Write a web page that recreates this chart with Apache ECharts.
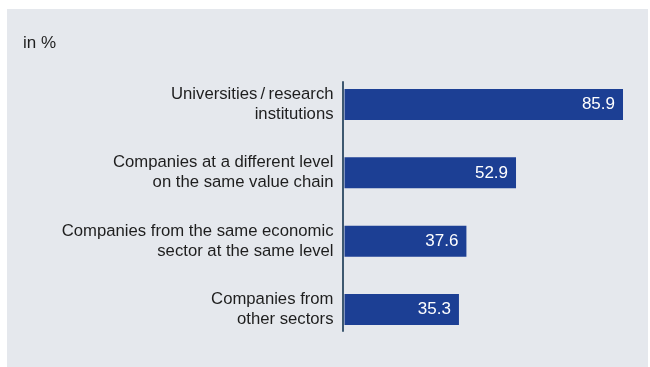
<!DOCTYPE html>
<html>
<head>
<meta charset="utf-8">
<script src="https://cdn.jsdelivr.net/npm/echarts@6/dist/echarts.min.js"></script>
<style>
  html, body { margin: 0; padding: 0; background: #ffffff; }
  #panel { position: absolute; left: 7px; top: 9px; width: 641px; height: 358px; background: #e5e8ed; }
  #chart { position: absolute; left: 0; top: 0; width: 650px; height: 367px; }
</style>
</head>
<body>
<div id="panel"></div>
<div id="chart"></div>
<script>
// Cooperation partners, share of respondents in %
const categories = [
  'Universities\u2009/\u2009research\ninstitutions',
  'Companies at a different level\non the same value chain',
  'Companies from the same economic\nsector at the same level',
  'Companies from\nother sectors'
];
const values = [85.9, 52.9, 37.6, 35.3];
const unitLabel = 'in %';

const chart = echarts.init(document.getElementById('chart'), null, { renderer: 'canvas' });
const font = '"Liberation Sans", Arial, Helvetica, sans-serif';

chart.setOption({
  backgroundColor: 'transparent',
  animation: false,
  title: {
    text: unitLabel,
    left: 18,
    top: 30,
    textStyle: { fontFamily: font, fontSize: 17, fontWeight: 'normal', color: '#1e1e1e' }
  },
  grid: [
    { left: 344.5, top: 70.3, width: 291.8, height: 273.4 },
    { left: 343, top: 82, width: 291.8, height: 249 }
  ],
  xAxis: [
    { gridIndex: 0, type: 'value', min: 0, max: 90, show: false },
    { gridIndex: 1, type: 'value', min: 0, max: 90, show: false }
  ],
  yAxis: [
    {
      gridIndex: 0,
      type: 'category',
      inverse: true,
      data: categories,
      axisLine: { show: false },
      axisTick: { show: false },
      axisLabel: {
        margin: 11,
        fontFamily: font,
        fontSize: 16.7,
        lineHeight: 20,
        color: '#1e1e1e',
        align: 'right'
      }
    },
    {
      gridIndex: 1,
      type: 'category',
      inverse: true,
      data: categories,
      axisLine: { show: true, lineStyle: { color: '#3e5870', width: 2 } },
      axisTick: { show: false },
      axisLabel: { show: false }
    }
  ],
  series: [
    {
      type: 'bar',
      xAxisIndex: 0,
      yAxisIndex: 0,
      data: values,
      barWidth: 31,
      itemStyle: { color: '#1c3f94' },
      label: {
        show: true,
        position: 'insideRight',
        distance: 8,
        formatter: p => p.value.toFixed(1),
        fontFamily: font,
        fontSize: 17,
        color: '#ffffff'
      }
    }
  ]
});
</script>
</body>
</html>
